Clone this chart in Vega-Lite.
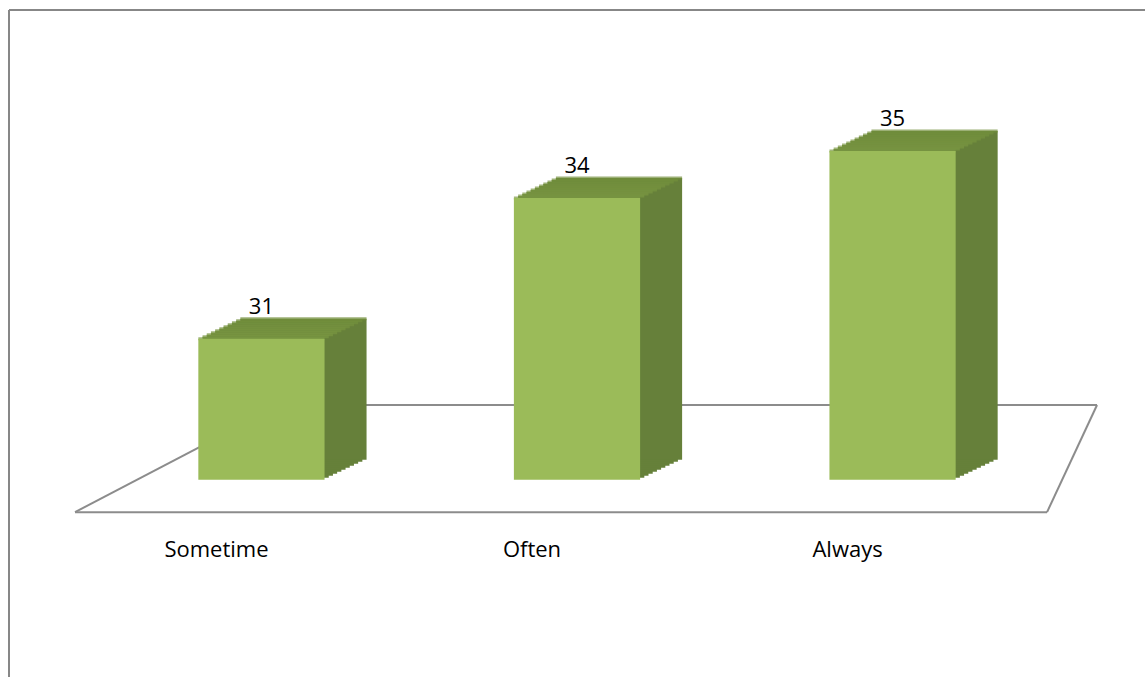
{
  "$schema": "https://vega.github.io/schema/vega-lite/v6.json",
  "width": 1136,
  "height": 667,
  "autosize": {"type": "none"},
  "padding": {"left": 9, "top": 10, "right": 0, "bottom": 0},
  "background": "white",
  "config": {"view": {"stroke": null}, "text": {"font": "Open Sans"}},
  "data": {
    "values": [
      {"cat": "Sometime", "value": 31},
      {"cat": "Often", "value": 34},
      {"cat": "Always", "value": 35}
    ]
  },
  "layer": [
    {
      "transform": [{"filter": "datum.cat == 'Often'"}],
      "mark": {"type": "rule", "color": "#878787", "strokeWidth": 2},
      "encoding": {
        "y": {"datum": 38, "type": "quantitative", "scale": {"domain": [23.8, 38], "nice": false, "zero": false}, "axis": null}
      }
    },
    {
      "transform": [{"filter": "datum.cat == 'Often'"}],
      "mark": {"type": "rule", "color": "#878787", "strokeWidth": 2},
      "encoding": {
        "x": {"datum": "Sometime", "type": "nominal", "bandPosition": -1.5, "scale": {"domain": ["Sometime", "Often", "Always"], "paddingInner": 0.6, "paddingOuter": 0.6}, "axis": null}
      }
    },
    {
      "transform": [{"filter": "datum.cat == 'Often'"}],
      "mark": {"type": "rule", "color": "#8c8c8c", "strokeWidth": 2},
      "encoding": {
        "x": {"datum": "Sometime", "type": "nominal", "bandPosition": -0.977, "scale": {"domain": ["Sometime", "Often", "Always"], "paddingInner": 0.6, "paddingOuter": 0.6}, "axis": null},
        "x2": {"datum": "Always", "bandPosition": 1.724},
        "y": {"datum": 27.31, "type": "quantitative", "scale": {"domain": [23.8, 38], "nice": false, "zero": false}, "axis": null},
        "y2": {"datum": 27.31}
      }
    },
    {
      "transform": [{"filter": "datum.cat == 'Often'"}],
      "mark": {"type": "rule", "color": "#8c8c8c", "strokeWidth": 2},
      "encoding": {
        "x": {"datum": "Sometime", "type": "nominal", "bandPosition": 0.647, "scale": {"domain": ["Sometime", "Often", "Always"], "paddingInner": 0.6, "paddingOuter": 0.6}, "axis": null},
        "x2": {"datum": "Always", "bandPosition": 2.12},
        "y": {"datum": 29.59, "type": "quantitative", "scale": {"domain": [23.8, 38], "nice": false, "zero": false}, "axis": null},
        "y2": {"datum": 29.59}
      }
    },
    {
      "transform": [{"filter": "datum.cat == 'Often'"}],
      "mark": {"type": "rule", "color": "#8c8c8c", "strokeWidth": 2},
      "encoding": {
        "x": {"datum": "Sometime", "type": "nominal", "bandPosition": -0.977, "scale": {"domain": ["Sometime", "Often", "Always"], "paddingInner": 0.6, "paddingOuter": 0.6}, "axis": null},
        "x2": {"datum": "Sometime", "bandPosition": 0.647},
        "y": {"datum": 27.31, "type": "quantitative", "scale": {"domain": [23.8, 38], "nice": false, "zero": false}, "axis": null},
        "y2": {"datum": 29.59}
      }
    },
    {
      "transform": [{"filter": "datum.cat == 'Often'"}],
      "mark": {"type": "rule", "color": "#8c8c8c", "strokeWidth": 2},
      "encoding": {
        "x": {"datum": "Always", "type": "nominal", "bandPosition": 1.724, "scale": {"domain": ["Sometime", "Often", "Always"], "paddingInner": 0.6, "paddingOuter": 0.6}, "axis": null},
        "x2": {"datum": "Always", "bandPosition": 2.12},
        "y": {"datum": 27.31, "type": "quantitative", "scale": {"domain": [23.8, 38], "nice": false, "zero": false}, "axis": null},
        "y2": {"datum": 29.59}
      }
    },
    {"mark": {"type": "bar", "color": "#66803a", "xOffset": 4.2, "yOffset": -2, "y2Offset": -2}, "encoding": {"x": {"field": "cat", "type": "nominal", "scale": {"domain": ["Sometime", "Often", "Always"], "paddingInner": 0.6, "paddingOuter": 0.6}, "axis": null}, "y": {"field": "value", "type": "quantitative", "scale": {"domain": [23.8, 38], "nice": false, "zero": false}, "axis": null}, "y2": {"datum": 28}}},
    {"mark": {"type": "bar", "color": "#66803a", "xOffset": 8.4, "yOffset": -4, "y2Offset": -4}, "encoding": {"x": {"field": "cat", "type": "nominal", "scale": {"domain": ["Sometime", "Often", "Always"], "paddingInner": 0.6, "paddingOuter": 0.6}, "axis": null}, "y": {"field": "value", "type": "quantitative", "scale": {"domain": [23.8, 38], "nice": false, "zero": false}, "axis": null}, "y2": {"datum": 28}}},
    {"mark": {"type": "bar", "color": "#66803a", "xOffset": 12.6, "yOffset": -6, "y2Offset": -6}, "encoding": {"x": {"field": "cat", "type": "nominal", "scale": {"domain": ["Sometime", "Often", "Always"], "paddingInner": 0.6, "paddingOuter": 0.6}, "axis": null}, "y": {"field": "value", "type": "quantitative", "scale": {"domain": [23.8, 38], "nice": false, "zero": false}, "axis": null}, "y2": {"datum": 28}}},
    {"mark": {"type": "bar", "color": "#66803a", "xOffset": 16.8, "yOffset": -8, "y2Offset": -8}, "encoding": {"x": {"field": "cat", "type": "nominal", "scale": {"domain": ["Sometime", "Often", "Always"], "paddingInner": 0.6, "paddingOuter": 0.6}, "axis": null}, "y": {"field": "value", "type": "quantitative", "scale": {"domain": [23.8, 38], "nice": false, "zero": false}, "axis": null}, "y2": {"datum": 28}}},
    {"mark": {"type": "bar", "color": "#66803a", "xOffset": 21, "yOffset": -10, "y2Offset": -10}, "encoding": {"x": {"field": "cat", "type": "nominal", "scale": {"domain": ["Sometime", "Often", "Always"], "paddingInner": 0.6, "paddingOuter": 0.6}, "axis": null}, "y": {"field": "value", "type": "quantitative", "scale": {"domain": [23.8, 38], "nice": false, "zero": false}, "axis": null}, "y2": {"datum": 28}}},
    {"mark": {"type": "bar", "color": "#66803a", "xOffset": 25.2, "yOffset": -12, "y2Offset": -12}, "encoding": {"x": {"field": "cat", "type": "nominal", "scale": {"domain": ["Sometime", "Often", "Always"], "paddingInner": 0.6, "paddingOuter": 0.6}, "axis": null}, "y": {"field": "value", "type": "quantitative", "scale": {"domain": [23.8, 38], "nice": false, "zero": false}, "axis": null}, "y2": {"datum": 28}}},
    {"mark": {"type": "bar", "color": "#66803a", "xOffset": 29.4, "yOffset": -14, "y2Offset": -14}, "encoding": {"x": {"field": "cat", "type": "nominal", "scale": {"domain": ["Sometime", "Often", "Always"], "paddingInner": 0.6, "paddingOuter": 0.6}, "axis": null}, "y": {"field": "value", "type": "quantitative", "scale": {"domain": [23.8, 38], "nice": false, "zero": false}, "axis": null}, "y2": {"datum": 28}}},
    {"mark": {"type": "bar", "color": "#66803a", "xOffset": 33.6, "yOffset": -16, "y2Offset": -16}, "encoding": {"x": {"field": "cat", "type": "nominal", "scale": {"domain": ["Sometime", "Often", "Always"], "paddingInner": 0.6, "paddingOuter": 0.6}, "axis": null}, "y": {"field": "value", "type": "quantitative", "scale": {"domain": [23.8, 38], "nice": false, "zero": false}, "axis": null}, "y2": {"datum": 28}}},
    {"mark": {"type": "bar", "color": "#66803a", "xOffset": 37.8, "yOffset": -18, "y2Offset": -18}, "encoding": {"x": {"field": "cat", "type": "nominal", "scale": {"domain": ["Sometime", "Often", "Always"], "paddingInner": 0.6, "paddingOuter": 0.6}, "axis": null}, "y": {"field": "value", "type": "quantitative", "scale": {"domain": [23.8, 38], "nice": false, "zero": false}, "axis": null}, "y2": {"datum": 28}}},
    {"mark": {"type": "bar", "color": "#66803a", "xOffset": 42, "yOffset": -20, "y2Offset": -20}, "encoding": {"x": {"field": "cat", "type": "nominal", "scale": {"domain": ["Sometime", "Often", "Always"], "paddingInner": 0.6, "paddingOuter": 0.6}, "axis": null}, "y": {"field": "value", "type": "quantitative", "scale": {"domain": [23.8, 38], "nice": false, "zero": false}, "axis": null}, "y2": {"datum": 28}}},
    {"mark": {"type": "tick", "color": "#7b9843", "size": 126.2, "thickness": 3, "xOffset": 0, "yOffset": 0}, "encoding": {"x": {"field": "cat", "type": "nominal", "scale": {"domain": ["Sometime", "Often", "Always"], "paddingInner": 0.6, "paddingOuter": 0.6}, "axis": null}, "y": {"field": "value", "type": "quantitative", "scale": {"domain": [23.8, 38], "nice": false, "zero": false}, "axis": null}}},
    {"mark": {"type": "tick", "color": "#7b9843", "size": 126.2, "thickness": 3, "xOffset": 4.2, "yOffset": -2}, "encoding": {"x": {"field": "cat", "type": "nominal", "scale": {"domain": ["Sometime", "Often", "Always"], "paddingInner": 0.6, "paddingOuter": 0.6}, "axis": null}, "y": {"field": "value", "type": "quantitative", "scale": {"domain": [23.8, 38], "nice": false, "zero": false}, "axis": null}}},
    {"mark": {"type": "tick", "color": "#7a9742", "size": 126.2, "thickness": 3, "xOffset": 8.4, "yOffset": -4}, "encoding": {"x": {"field": "cat", "type": "nominal", "scale": {"domain": ["Sometime", "Often", "Always"], "paddingInner": 0.6, "paddingOuter": 0.6}, "axis": null}, "y": {"field": "value", "type": "quantitative", "scale": {"domain": [23.8, 38], "nice": false, "zero": false}, "axis": null}}},
    {"mark": {"type": "tick", "color": "#799641", "size": 126.2, "thickness": 3, "xOffset": 12.6, "yOffset": -6}, "encoding": {"x": {"field": "cat", "type": "nominal", "scale": {"domain": ["Sometime", "Often", "Always"], "paddingInner": 0.6, "paddingOuter": 0.6}, "axis": null}, "y": {"field": "value", "type": "quantitative", "scale": {"domain": [23.8, 38], "nice": false, "zero": false}, "axis": null}}},
    {"mark": {"type": "tick", "color": "#789540", "size": 126.2, "thickness": 3, "xOffset": 16.8, "yOffset": -8}, "encoding": {"x": {"field": "cat", "type": "nominal", "scale": {"domain": ["Sometime", "Often", "Always"], "paddingInner": 0.6, "paddingOuter": 0.6}, "axis": null}, "y": {"field": "value", "type": "quantitative", "scale": {"domain": [23.8, 38], "nice": false, "zero": false}, "axis": null}}},
    {"mark": {"type": "tick", "color": "#77943f", "size": 126.2, "thickness": 3, "xOffset": 21, "yOffset": -10}, "encoding": {"x": {"field": "cat", "type": "nominal", "scale": {"domain": ["Sometime", "Often", "Always"], "paddingInner": 0.6, "paddingOuter": 0.6}, "axis": null}, "y": {"field": "value", "type": "quantitative", "scale": {"domain": [23.8, 38], "nice": false, "zero": false}, "axis": null}}},
    {"mark": {"type": "tick", "color": "#76933e", "size": 126.2, "thickness": 3, "xOffset": 25.2, "yOffset": -12}, "encoding": {"x": {"field": "cat", "type": "nominal", "scale": {"domain": ["Sometime", "Often", "Always"], "paddingInner": 0.6, "paddingOuter": 0.6}, "axis": null}, "y": {"field": "value", "type": "quantitative", "scale": {"domain": [23.8, 38], "nice": false, "zero": false}, "axis": null}}},
    {"mark": {"type": "tick", "color": "#75923e", "size": 126.2, "thickness": 3, "xOffset": 29.4, "yOffset": -14}, "encoding": {"x": {"field": "cat", "type": "nominal", "scale": {"domain": ["Sometime", "Often", "Always"], "paddingInner": 0.6, "paddingOuter": 0.6}, "axis": null}, "y": {"field": "value", "type": "quantitative", "scale": {"domain": [23.8, 38], "nice": false, "zero": false}, "axis": null}}},
    {"mark": {"type": "tick", "color": "#74913d", "size": 126.2, "thickness": 3, "xOffset": 33.6, "yOffset": -16}, "encoding": {"x": {"field": "cat", "type": "nominal", "scale": {"domain": ["Sometime", "Often", "Always"], "paddingInner": 0.6, "paddingOuter": 0.6}, "axis": null}, "y": {"field": "value", "type": "quantitative", "scale": {"domain": [23.8, 38], "nice": false, "zero": false}, "axis": null}}},
    {"mark": {"type": "tick", "color": "#73903c", "size": 126.2, "thickness": 3, "xOffset": 37.8, "yOffset": -18}, "encoding": {"x": {"field": "cat", "type": "nominal", "scale": {"domain": ["Sometime", "Often", "Always"], "paddingInner": 0.6, "paddingOuter": 0.6}, "axis": null}, "y": {"field": "value", "type": "quantitative", "scale": {"domain": [23.8, 38], "nice": false, "zero": false}, "axis": null}}},
    {"mark": {"type": "tick", "color": "#728f3c", "size": 126.2, "thickness": 3, "xOffset": 42, "yOffset": -20}, "encoding": {"x": {"field": "cat", "type": "nominal", "scale": {"domain": ["Sometime", "Often", "Always"], "paddingInner": 0.6, "paddingOuter": 0.6}, "axis": null}, "y": {"field": "value", "type": "quantitative", "scale": {"domain": [23.8, 38], "nice": false, "zero": false}, "axis": null}}},
    {
      "mark": {"type": "bar", "color": "#9bbb59"},
      "encoding": {
        "x": {"field": "cat", "type": "nominal", "scale": {"domain": ["Sometime", "Often", "Always"], "paddingInner": 0.6, "paddingOuter": 0.6}, "axis": null},
        "y": {"field": "value", "type": "quantitative", "scale": {"domain": [23.8, 38], "nice": false, "zero": false}, "axis": null},
        "y2": {"datum": 28}
      }
    },
    {
      "mark": {"type": "text", "fontSize": 22, "color": "#000000", "baseline": "middle", "dy": -32},
      "encoding": {
        "x": {"field": "cat", "type": "nominal", "scale": {"domain": ["Sometime", "Often", "Always"], "paddingInner": 0.6, "paddingOuter": 0.6}, "axis": null},
        "y": {"field": "value", "type": "quantitative", "scale": {"domain": [23.8, 38], "nice": false, "zero": false}, "axis": null},
        "text": {"field": "value", "type": "quantitative"}
      }
    },
    {
      "mark": {"type": "text", "fontSize": 22, "color": "#000000", "baseline": "middle", "dx": -45},
      "encoding": {
        "x": {"field": "cat", "type": "nominal", "scale": {"domain": ["Sometime", "Often", "Always"], "paddingInner": 0.6, "paddingOuter": 0.6}, "axis": null},
        "y": {"datum": 26.5, "type": "quantitative", "scale": {"domain": [23.8, 38], "nice": false, "zero": false}, "axis": null},
        "text": {"field": "cat", "type": "nominal"}
      }
    }
  ]
}
